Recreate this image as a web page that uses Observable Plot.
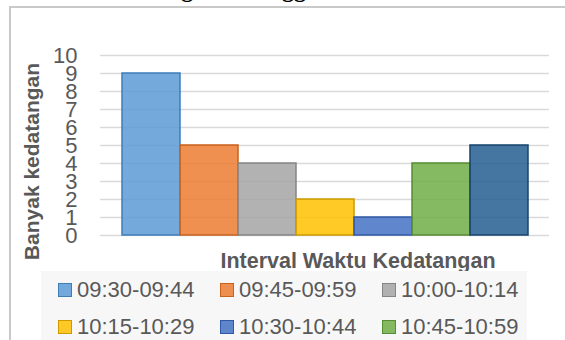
<!DOCTYPE html>
<html><head><meta charset="utf-8">
<script src="https://cdn.jsdelivr.net/npm/d3@7"></script>
<script src="https://cdn.jsdelivr.net/npm/@observablehq/plot@0.6"></script>
<style>
body{margin:0;background:#fff;}
#wrap{position:relative;width:565px;height:340px;overflow:hidden;font-family:"Liberation Sans",Arial,sans-serif;background:#fff;}
#title{position:absolute;left:18px;top:-23px;font-family:"Liberation Serif","Times New Roman",serif;font-weight:bold;font-size:24px;line-height:24px;color:#000;white-space:nowrap;}
#frame{position:absolute;left:9px;top:6px;width:560px;height:340px;border-top:2px solid #c9c9c9;border-left:2px solid #c9c9c9;}
#chart{position:absolute;left:0;top:0;}
#legend{position:absolute;left:41px;top:271px;width:486px;height:120px;background:#f7f7f7;}
.item{position:absolute;height:37px;display:flex;align-items:center;font-size:22px;color:#595959;white-space:nowrap;}
.sw{width:12px;height:12px;border:1.5px solid;margin-right:5px;}
</style></head><body>
<div id="wrap">
  <div id="title">Waktu Kedatangan Pelanggan</div>
  <div id="frame"></div>
  <div id="chart"></div>
  <div id="legend"></div>
</div>
<script>
const intervals = ["09:30-09:44","09:45-09:59","10:00-10:14","10:15-10:29","10:30-10:44","10:45-10:59","11:00-11:14"];
const counts = [9,5,4,2,1,4,5];
const fills = ["#5B9BD5","#ED7D31","#A5A5A5","#FFC000","#4472C4","#70AD47","#255E91"];
const strokes = ["#3E7DBA","#C9621C","#858585","#CC9A00","#2F58A6","#558D32","#17446E"];
const yTicks = [0,1,2,3,4,5,6,7,8,9,10];
const xTitle = "Interval Waktu Kedatangan";
const yTitle = "Banyak kedatangan";

const data = intervals.map((k,i)=>({interval:k, count:counts[i], fill:fills[i], stroke:strokes[i]}));

const chart = Plot.plot({
  width:565, height:272,
  marginTop:55, marginBottom:37, marginLeft:100, marginRight:16,
  x:{domain:intervals, paddingInner:0, paddingOuter:0.31, axis:null},
  y:{domain:[0,10], axis:null},
  color:{type:"identity"},
  style:{fontFamily:"'Liberation Sans', Arial, sans-serif", background:"transparent", overflow:"visible"},
  marks:[
    Plot.gridY(yTicks,{stroke:"#d9d9d9", strokeOpacity:1, strokeWidth:1.5}),
    Plot.axisY(yTicks,{tickSize:0, tickPadding:23, fontSize:22, fill:"#595959", label:null}),
    Plot.barY(data,{x:"interval", y:"count", fill:"fill", fillOpacity:0.85, stroke:"stroke", strokeWidth:1.5}),
    Plot.text([yTitle],{frameAnchor:"left", textAnchor:"middle", lineAnchor:"middle", dx:-68, dy:16, rotate:-90, fontSize:21, fontWeight:"bold", fill:"#595959"}),
    Plot.text([xTitle],{frameAnchor:"bottom", textAnchor:"middle", lineAnchor:"middle", dx:33, dy:26, fontSize:21.5, fontWeight:"bold", fill:"#595959"})
  ]
});
document.getElementById("chart").appendChild(chart);

const legend = document.getElementById("legend");
intervals.forEach((k,i)=>{
  const it = document.createElement("div");
  it.className = "item";
  it.style.left = (17 + (i%3)*162) + "px";
  it.style.top = (Math.floor(i/3)*37) + "px";
  const sw = document.createElement("div");
  sw.className = "sw";
  sw.style.borderColor = strokes[i];
  sw.style.background = d3.color(fills[i]).copy({opacity:0.85}).formatRgb();
  it.appendChild(sw);
  const t = document.createElement("span");
  t.textContent = k;
  it.appendChild(t);
  legend.appendChild(it);
});
</script>
</body></html>
